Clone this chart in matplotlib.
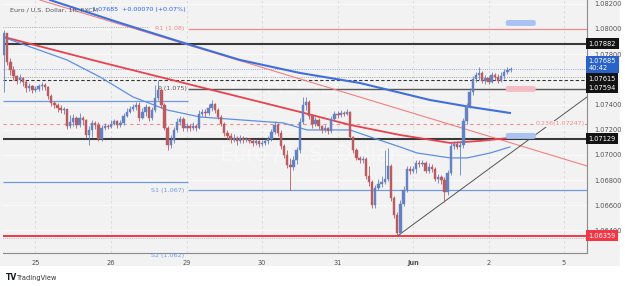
import matplotlib
matplotlib.use("Agg")
import matplotlib.pyplot as plt
import matplotlib.transforms as mtransforms
from matplotlib.patches import FancyBboxPatch, Rectangle

# hourly bars, x = hours from 25 May 00:00 (weekend removed)
bar_hours = list(range(-10, 152))
first_open = 1.07794
closes = [1.07968, 1.07738, 1.07674, 1.07627, 1.07595, 1.07611, 1.07579, 1.07532, 1.07547, 1.07516,
          1.07524, 1.07547, 1.07555, 1.07539, 1.07468, 1.07412, 1.07397, 1.07373, 1.07357, 1.07365,
          1.07230, 1.07262, 1.07293, 1.07238, 1.07293, 1.07277, 1.07158, 1.07198, 1.07254, 1.07238,
          1.07127, 1.07214, 1.07230, 1.07222, 1.07246, 1.07270, 1.07238, 1.07254, 1.07309, 1.07341,
          1.07365, 1.07381, 1.07397, 1.07293, 1.07341, 1.07381, 1.07293, 1.07357, 1.07452, 1.07516,
          1.07397, 1.07214, 1.07079, 1.07119, 1.07198, 1.07262, 1.07285, 1.07214, 1.07230, 1.07214,
          1.07230, 1.07214, 1.07325, 1.07341, 1.07333, 1.07373, 1.07404, 1.07357, 1.07301, 1.07246,
          1.07174, 1.07150, 1.07119, 1.07135, 1.07111, 1.07135, 1.07119, 1.07127, 1.07111, 1.07095,
          1.07111, 1.07087, 1.07095, 1.07111, 1.07127, 1.07182, 1.07238, 1.07174, 1.07071, 1.07000,
          1.06920, 1.06904, 1.06960, 1.07039, 1.07262, 1.07397, 1.07420, 1.07309, 1.07246, 1.07277,
          1.07230, 1.07198, 1.07214, 1.07190, 1.07285, 1.07325, 1.07317, 1.07333, 1.07325, 1.07341,
          1.07142, 1.07039, 1.06976, 1.06960, 1.06968, 1.06833, 1.06785, 1.06603, 1.06738, 1.06769,
          1.06785, 1.06809, 1.06912, 1.06658, 1.06523, 1.06380, 1.06610, 1.06722, 1.06888, 1.06873,
          1.06888, 1.06936, 1.06928, 1.06936, 1.06873, 1.06904, 1.06888, 1.06809, 1.06825, 1.06801,
          1.06706, 1.06857, 1.07071, 1.07087, 1.07063, 1.07079, 1.07270, 1.07389, 1.07500, 1.07603,
          1.07635, 1.07651, 1.07587, 1.07611, 1.07579, 1.07635, 1.07619, 1.07587, 1.07627, 1.07659,
          1.07674, 1.07685]
highs = [1.07992, 1.07952, 1.07770, 1.07706, 1.07635, 1.07643, 1.07619, 1.07595, 1.07571, 1.07555,
         1.07547, 1.07563, 1.07579, 1.07571, 1.07547, 1.07484, 1.07428, 1.07412, 1.07397, 1.07381,
         1.07365, 1.07317, 1.07325, 1.07309, 1.07333, 1.07309, 1.07285, 1.07230, 1.07277, 1.07270,
         1.07262, 1.07238, 1.07254, 1.07246, 1.07277, 1.07285, 1.07277, 1.07277, 1.07333, 1.07373,
         1.07389, 1.07404, 1.07420, 1.07420, 1.07373, 1.07404, 1.07389, 1.07381, 1.07555, 1.07595,
         1.07532, 1.07412, 1.07230, 1.07158, 1.07222, 1.07293, 1.07309, 1.07301, 1.07254, 1.07246,
         1.07262, 1.07246, 1.07357, 1.07365, 1.07365, 1.07404, 1.07436, 1.07412, 1.07373, 1.07317,
         1.07262, 1.07198, 1.07174, 1.07166, 1.07150, 1.07158, 1.07150, 1.07142, 1.07135, 1.07127,
         1.07127, 1.07119, 1.07119, 1.07127, 1.07150, 1.07206, 1.07270, 1.07254, 1.07198, 1.07087,
         1.07039, 1.06976, 1.06992, 1.07063, 1.07293, 1.07460, 1.07460, 1.07436, 1.07325, 1.07301,
         1.07293, 1.07238, 1.07238, 1.07222, 1.07309, 1.07349, 1.07349, 1.07357, 1.07349, 1.07365,
         1.07349, 1.07150, 1.07055, 1.06992, 1.06992, 1.06984, 1.06912, 1.06801, 1.06761, 1.06809,
         1.06833, 1.07039, 1.07055, 1.06928, 1.06674, 1.06547, 1.06642, 1.06753, 1.06912, 1.06912,
         1.06912, 1.06960, 1.06960, 1.06960, 1.06952, 1.06936, 1.06928, 1.06904, 1.06849, 1.06841,
         1.06825, 1.06880, 1.07095, 1.07111, 1.07111, 1.07111, 1.07293, 1.07412, 1.07532, 1.07627,
         1.07659, 1.07698, 1.07667, 1.07635, 1.07627, 1.07659, 1.07651, 1.07643, 1.07659, 1.07682,
         1.07698, 1.07698]
lows = [1.07500, 1.07714, 1.07635, 1.07595, 1.07563, 1.07571, 1.07547, 1.07500, 1.07508, 1.07492,
        1.07500, 1.07508, 1.07516, 1.07516, 1.07444, 1.07389, 1.07373, 1.07341, 1.07333, 1.07325,
        1.07206, 1.07214, 1.07230, 1.07214, 1.07222, 1.07238, 1.07135, 1.07079, 1.07142, 1.07206,
        1.07111, 1.07111, 1.07198, 1.07206, 1.07214, 1.07238, 1.07214, 1.07222, 1.07238, 1.07301,
        1.07333, 1.07349, 1.07357, 1.07270, 1.07285, 1.07309, 1.07270, 1.07277, 1.07341, 1.07436,
        1.07373, 1.07198, 1.07039, 1.07055, 1.07095, 1.07182, 1.07238, 1.07190, 1.07190, 1.07190,
        1.07198, 1.07190, 1.07206, 1.07309, 1.07301, 1.07317, 1.07349, 1.07333, 1.07285, 1.07230,
        1.07150, 1.07127, 1.07095, 1.07103, 1.07079, 1.07095, 1.07095, 1.07103, 1.07095, 1.07071,
        1.07079, 1.07063, 1.07071, 1.07079, 1.07087, 1.07111, 1.07166, 1.07150, 1.07047, 1.06976,
        1.06896, 1.06722, 1.06880, 1.06928, 1.07015, 1.07246, 1.07357, 1.07285, 1.07214, 1.07230,
        1.07206, 1.07174, 1.07182, 1.07166, 1.07174, 1.07270, 1.07293, 1.07301, 1.07309, 1.07317,
        1.07127, 1.07015, 1.06960, 1.06936, 1.06936, 1.06809, 1.06753, 1.06579, 1.06579, 1.06722,
        1.06745, 1.06769, 1.06793, 1.06634, 1.06499, 1.06359, 1.06372, 1.06595, 1.06706, 1.06849,
        1.06857, 1.06857, 1.06904, 1.06912, 1.06857, 1.06857, 1.06865, 1.06793, 1.06777, 1.06769,
        1.06626, 1.06682, 1.06841, 1.07047, 1.07047, 1.06841, 1.07055, 1.07246, 1.07373, 1.07476,
        1.07579, 1.07595, 1.07571, 1.07563, 1.07563, 1.07571, 1.07595, 1.07571, 1.07579, 1.07603,
        1.07643, 1.07659]

# indicator lines (read at a few bars)
ma_slow_x = [4.6, 26.9, 48.2, 65, 84, 103.1, 125.4, 138.1, 150.8]
ma_slow_y = [1.08230, 1.08048, 1.07881, 1.07754, 1.07651, 1.07571, 1.07436, 1.07381, 1.07333]
ma_mid_x = [-10, 20.5, 52.3, 84.1, 100, 115.9, 131.8, 141.3, 150.8]
ma_mid_y = [1.07936, 1.07738, 1.07539, 1.07341, 1.07238, 1.07158, 1.07095, 1.07111, 1.07135]
ma_fast_x = [-9.7, 10, 20.5, 31, 41.8, 52.3, 78.7, 86.3, 100, 107.3, 115.9, 121.3, 131.8, 137.2, 144.5, 150.8]
ma_fast_y = [1.07929, 1.07754, 1.07619, 1.07460, 1.07357, 1.07301, 1.07254, 1.07198, 1.07198,
             1.07135, 1.07063, 1.07015, 1.06976, 1.06976, 1.07015, 1.07063]
down_trend_x = [1.4, 175.3]
down_trend_y = [1.08230, 1.06912]
up_trend_x = [115.2, 175.3]
up_trend_y = [1.06359, 1.07460]

day_ticks = [0, 24, 48, 72, 96, 120, 144, 168]
day_labels = ['25', '26', '29', '30', '31', 'Jun', '2', '5']
price_ticks = [1.064, 1.066, 1.068, 1.070, 1.072, 1.074, 1.078, 1.080, 1.082]

UP = '#6482c2'
DOWN = '#bb5a5f'
BG = '#f2f2f2'

fig = plt.figure(figsize=(6.25, 2.86), dpi=100, facecolor='white')
fig.patches.append(Rectangle((0, 20 / 286), 620 / 625, 266 / 286, transform=fig.transFigure,
                             facecolor=BG, edgecolor='none', zorder=-10))
ax = fig.add_axes([3 / 625, 33 / 286, 584 / 625, 253 / 286])
ax.set_facecolor(BG)
ax.set_xlim(-10.33, 175.3)
ax.set_ylim(1.06221, 1.08230)

# watermark
ax.text(87, 1.0755, 'EURUSD, 1h', ha='center', va='center', fontsize=19, color='white', alpha=0.4, zorder=0)
ax.text(87, 1.0700, 'Euro / U.S. Dollar', ha='center', va='center', fontsize=15, color='white', alpha=0.4, zorder=0)

for d in day_ticks:
    ax.axvline(d, color='#dadada', lw=0.6, ls=(0, (3, 3)), zorder=0.5)
for p in price_ticks + [1.076]:
    ax.axhline(p, color='#fafafa', lw=0.7, zorder=0.5)

# horizontal levels
ax.axhline(1.07882, color='#3a3a3a', lw=1.5, zorder=2)
ax.axhline(1.07129, color='#3a3a3a', lw=1.5, zorder=2)
ax.axhline(1.06359, color='#f23645', lw=1.4, zorder=2)
ax.axhline(1.06344, color='#999999', lw=0.5, ls=':', zorder=2)
ax.axhline(1.07685, color='#6f93e0', lw=0.6, ls=':', zorder=2)
ax.axhline(1.07615, color='#8a8a8a', lw=0.6, ls=':', zorder=2)
ax.axhline(1.07594, color='#333333', lw=0.8, ls=(0, (3, 2)), zorder=2)
ax.axhline(1.07247, color='#f28b8b', lw=0.8, ls=(0, (3, 3)), zorder=2)
ax.hlines(1.08016, -10.33, 36, color='#999999', lw=0.6, ls=':', zorder=2)
ax.hlines(1.08000, 48.5, 175.3, color='#f08a8a', lw=0.9, zorder=2)
ax.hlines(1.07524, 48.5, 175.3, color='#555555', lw=1.0, zorder=2)
ax.hlines(1.07428, -10.33, 48.5, color='#6f9ae8', lw=0.9, zorder=2)
ax.hlines(1.06785, -10.33, 48.5, color='#6f9ae8', lw=0.9, zorder=2)
ax.hlines(1.06718, 48.5, 175.3, color='#6f9ae8', lw=0.9, zorder=2)

lvl = dict(fontsize=4.6, zorder=6)
ax.text(47.3, 1.08000, 'R1 (1.08)', color='#f08a8a', ha='right', va='center', **lvl)
ax.text(39, 1.07524, 'P (1.075)', color='#555555', ha='left', va='center', **lvl)
ax.text(47.3, 1.06718, 'S1 (1.067)', color='#6f9ae8', ha='right', va='center', **lvl)
ax.text(47.3, 1.06205, 'S2 (1.062)', color='#6f9ae8', ha='right', va='center', **lvl)
ax.text(174.5, 1.07247, '0.236(1.07247)', color='#f28b8b', ha='right', va='center',
        bbox=dict(facecolor=BG, edgecolor='none', pad=0.5), **lvl)

# shaded boxes
for y0, y1, fc in [(1.08024, 1.08071, '#a9c2f2'), (1.07500, 1.07547, '#f3bcc3'), (1.07127, 1.07174, '#a9c2f2')]:
    ax.add_patch(FancyBboxPatch((149.5, y0), 9.5, y1 - y0, boxstyle='round,pad=0,rounding_size=1',
                                facecolor=fc, edgecolor='none', zorder=3, mutation_aspect=0.0001))

# indicators
ax.plot(down_trend_x, down_trend_y, color='#f28080', lw=0.8, zorder=2.5)
ax.plot(ma_slow_x, ma_slow_y, color='#3f6fdc', lw=1.5, zorder=2.6)
ax.plot(ma_mid_x, ma_mid_y, color='#e8414f', lw=1.3, zorder=2.6)
ax.plot(ma_fast_x, ma_fast_y, color='#5d8fe6', lw=0.9, zorder=2.6)
ax.plot(up_trend_x, up_trend_y, color='#555555', lw=0.7, zorder=2.6)

# candles
opens = [first_open] + closes[:-1]
for h, o, c, hi, lo in zip(bar_hours, opens, closes, highs, lows):
    col = UP if c >= o else DOWN
    ax.vlines(h, min(lo, o, c), max(hi, o, c), color=col, lw=0.6, zorder=4)
    ax.bar(h, max(abs(c - o), 0.00003), bottom=min(o, c), width=0.75, color=col,
           edgecolor=col, lw=0.3, zorder=4.5)

# axes styling
for s in ['top', 'left']:
    ax.spines[s].set_visible(False)
ax.spines['right'].set_color('#8a8a8a')
ax.spines['bottom'].set_color('#8a8a8a')
ax.spines['right'].set_linewidth(0.8)
ax.spines['bottom'].set_linewidth(0.8)
ax.yaxis.tick_right()
ax.set_yticks(price_ticks)
ax.set_yticklabels([f'{p:.5f}' for p in price_ticks], fontsize=4.8, color='#555555')
ax.set_xticks(day_ticks)
ax.set_xticklabels(day_labels, fontsize=4.8, color='#555555')
for t in ax.get_xticklabels():
    if t.get_text() == 'Jun':
        t.set_fontweight('bold')
ax.tick_params(length=0, pad=5)
ax.tick_params(axis='y', pad=5)

# price labels on the scale
tr = mtransforms.blended_transform_factory(ax.transAxes, ax.transData)
for p, txt, fc in [(1.07882, '1.07882', '#131313'), (1.07605, '1.07615', '#131313'),
                   (1.07535, '1.07594', '#131313'), (1.07129, '1.07129', '#131313'),
                   (1.06359, '1.06359', '#f23645')]:
    ax.text(1.003, p, txt, transform=tr, fontsize=4.8, color='white', ha='left', va='center',
            clip_on=False, zorder=10,
            bbox=dict(boxstyle='square,pad=0.35', facecolor=fc, edgecolor='none'))
ax.text(1.003, 1.07718, '1.07685\n40:42', transform=tr, fontsize=4.8, color='white', ha='left',
        va='center', clip_on=False, zorder=11, linespacing=1.25,
        bbox=dict(boxstyle='square,pad=0.35', facecolor='#2962c8', edgecolor='none'))

# title
fig.text(10 / 625, 1 - 10 / 286, 'Euro / U.S. Dollar, 1h, FXCM', fontsize=4.6, color='#555555', va='center')
fig.text(92 / 625, 1 - 10 / 286, '1.07685  +0.00070 (+0.07%)', fontsize=4.6, color='#2962ff', va='center')

fig.text(6 / 625, 1 - 278 / 286, 'TV', fontsize=5.5, fontweight='bold', color='#131722', va='center')
fig.text(17 / 625, 1 - 278 / 286, 'TradingView', fontsize=4.8, color='#333333', va='center')

fig.savefig('out.png', dpi=100, facecolor='white')
